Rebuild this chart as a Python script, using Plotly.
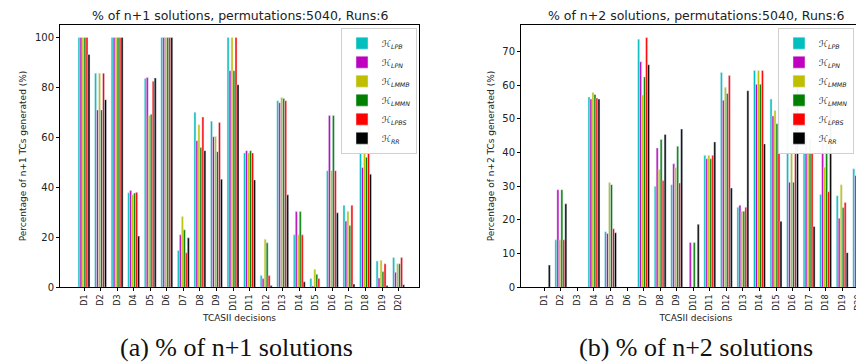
import plotly.graph_objects as go

categories = [f"D{i}" for i in range(1, 21)]
series_names = ["LPB", "LPN", "LMMB", "LMMN", "LPBS", "RR"]
series_colors = ["#00BFBF", "#BF00BF", "#BFBF00", "#008000", "#FF0000", "#000000"]

# % of n+1 solutions
n1_LPB  = [100, 85.7, 100, 37.8, 83.6, 100, 14.7, 70.1, 66.5, 100, 53.8, 4.7, 74.7, 21.0, 3.5, 46.7, 32.8, 70.0, 10.5, 11.9]
n1_LPN  = [100, 71.0, 100, 38.7, 84.0, 100, 21.0, 58.7, 60.3, 86.7, 54.7, 3.5, 73.9, 30.3, 0.5, 68.8, 26.5, 48.0, 3.7, 6.0]
n1_LMMB = [100, 85.7, 100, 37.0, 68.8, 100, 28.3, 65.1, 60.4, 100, 53.8, 19.2, 76.0, 21.0, 7.2, 46.7, 30.4, 60.5, 10.8, 9.4]
n1_LMMN = [100, 71.0, 100, 37.7, 69.3, 100, 23.0, 56.0, 54.3, 86.7, 54.7, 17.8, 75.6, 30.3, 5.2, 68.8, 24.7, 52.1, 6.3, 9.4]
n1_LPBS = [100, 85.7, 100, 38.0, 82.5, 100, 13.8, 68.2, 66.0, 100, 53.8, 4.7, 74.7, 21.0, 3.5, 46.7, 32.8, 68.0, 9.4, 11.9]
n1_RR   = [93.2, 75.1, 100, 20.5, 83.8, 100, 19.8, 54.7, 43.3, 81.1, 43.0, 0.7, 37.0, 2.2, 0.0, 29.8, 1.3, 45.3, 0.7, 1.0]

# % of n+2 solutions
n2_LPB  = [0, 14.1, 0, 56.5, 16.5, 0, 73.7, 30.0, 30.5, 0, 39.2, 63.8, 23.8, 64.4, 55.9, 53.3, 40.8, 27.6, 27.2, 35.2]
n2_LPN  = [0, 29.0, 0, 55.9, 16.0, 0, 67.0, 41.4, 36.7, 13.3, 38.2, 55.6, 24.4, 60.3, 50.9, 31.2, 45.7, 46.4, 20.5, 33.2]
n2_LMMB = [0, 14.1, 0, 57.9, 31.1, 0, 57.1, 35.0, 35.6, 0, 39.2, 59.4, 22.6, 64.4, 52.5, 53.3, 40.3, 35.7, 30.5, 35.9]
n2_LMMN = [0, 29.0, 0, 57.3, 30.5, 0, 62.5, 43.9, 41.9, 13.3, 38.2, 57.6, 22.6, 60.3, 48.6, 31.2, 44.3, 42.5, 23.7, 33.7]
n2_LPBS = [0, 14.1, 0, 56.2, 17.4, 0, 74.2, 31.7, 31.0, 0, 39.2, 62.9, 23.8, 64.4, 55.5, 53.3, 40.5, 28.4, 25.2, 34.6]
n2_RR   = [6.6, 24.8, 0, 55.9, 16.2, 0, 66.1, 45.4, 47.0, 18.7, 43.2, 29.5, 58.4, 42.6, 19.6, 60.2, 18.1, 55.0, 10.3, 12.4]

n1_series = [n1_LPB, n1_LPN, n1_LMMB, n1_LMMN, n1_LPBS, n1_RR]
n2_series = [n2_LPB, n2_LPN, n2_LMMB, n2_LMMN, n2_LPBS, n2_RR]

titles = ["% of n+1 solutions, permutations:5040, Runs:6",
          "% of n+2 solutions, permutations:5040, Runs:6"]
ytitles = ["Percentage of n+1 TCs generated (%)", "Percentage of n+2 TCs generated (%)"]
captions = ["(a) % of n+1 solutions", "(b) % of n+2 solutions"]

xpos = list(range(1, len(categories) + 1))

W, H = 864, 364
fig = go.Figure()

font = "DejaVu Sans"

for si, (name, color) in enumerate(zip(series_names, series_colors)):
    label = f"ℋ<sub><i>{name}</i></sub>"
    fig.add_trace(go.Bar(x=xpos, y=n1_series[si], name=label, marker_color=color,
                         xaxis="x", yaxis="y", legend="legend", offsetgroup=str(si)))
for si, (name, color) in enumerate(zip(series_names, series_colors)):
    label = f"ℋ<sub><i>{name}</i></sub>"
    fig.add_trace(go.Bar(x=xpos, y=n2_series[si], name=label, marker_color=color,
                         xaxis="x2", yaxis="y2", legend="legend2", offsetgroup=str(si)))

def px_x(p):
    return p / W

def px_y(p):
    return 1 - p / H

xdom1 = [px_x(52), px_x(411)]
xdom2 = [px_x(513), px_x(863)]
ydom = [px_y(284), px_y(17)]

common_x = dict(tickmode="array", tickvals=xpos, ticktext=categories, tickangle=-90,
                showline=True, linecolor="black", linewidth=1, mirror=True,
                ticks="outside", ticklen=3, tickcolor="black",
                tickfont=dict(size=8, family=font, color="#222"),
                showgrid=False, zeroline=False,
                title=dict(text="TCASII decisions", font=dict(size=9, family=font, color="#222"), standoff=4))
common_y = dict(showline=True, linecolor="black", linewidth=1, mirror=True,
                ticks="outside", ticklen=3, tickcolor="black",
                tickfont=dict(size=10, family=font, color="#222"),
                showgrid=False, zeroline=False)

legend_common = dict(xanchor="left", yanchor="top",
                     bgcolor="rgba(255,255,255,0.95)", bordercolor="#d0d0d0", borderwidth=1,
                     font=dict(size=9, family=font, color="#222"), itemwidth=30, tracegroupgap=0)

fig.update_layout(
    width=W, height=H,
    margin=dict(l=0, r=0, t=0, b=0),
    paper_bgcolor="white", plot_bgcolor="white",
    barmode="group", bargap=0.28, bargroupgap=0,
    xaxis=dict(domain=xdom1, range=[-0.45, 21.23], anchor="y", **common_x),
    xaxis2=dict(domain=xdom2, range=[-0.41, 20.74], anchor="y2", **common_x),
    yaxis=dict(domain=ydom, range=[0, 105.1], anchor="x", tickvals=[0, 20, 40, 60, 80, 100],
               title=dict(text=ytitles[0], font=dict(size=9, family=font, color="#222"), standoff=6), **common_y),
    yaxis2=dict(domain=ydom, range=[0, 78], anchor="x2", tickvals=[0, 10, 20, 30, 40, 50, 60, 70],
                title=dict(text=ytitles[1], font=dict(size=9, family=font, color="#222"), standoff=6), **common_y),
    legend=dict(x=px_x(333), y=px_y(20), **legend_common),
    legend2=dict(x=px_x(770), y=px_y(20), **legend_common),
    showlegend=True,
)

for i, (t, xd) in enumerate(zip(titles, [xdom1, xdom2])):
    fig.add_annotation(text=t, x=(xd[0] + xd[1]) / 2, y=px_y(8), xref="paper", yref="paper",
                       showarrow=False, font=dict(size=12.5, family=font, color="#222"),
                       xanchor="center", yanchor="middle")

for cap, cx in zip(captions, [228, 688]):
    fig.add_annotation(text=cap, x=px_x(cx), y=px_y(345), xref="paper", yref="paper",
                       showarrow=False, font=dict(size=26, family="Liberation Serif", color="#111"),
                       xanchor="center", yanchor="middle")

fig.write_html("out.html")
